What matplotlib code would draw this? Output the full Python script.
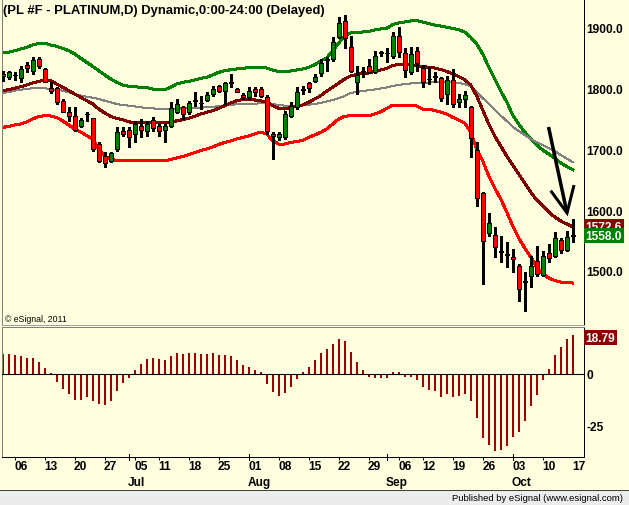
import numpy as np
import matplotlib
matplotlib.use('Agg')
import matplotlib.pyplot as plt
import matplotlib.transforms as mtransforms
from matplotlib.patches import Rectangle
from matplotlib.lines import Line2D

plt.rcParams['font.family'] = ['Liberation Sans', 'DejaVu Sans']

# ---------------- data (daily bars, 1 Jun 2011 .. 14 Oct 2011) ----------------
OPEN = [1824.7, 1818.8, 1823.4, 1817.7, 1839.1, 1828.7, 1848.9, 1832.5, 1800.7, 1800.7,
        1780.3, 1761.2, 1754.6, 1738.2, 1758.4, 1751.3, 1709.0, 1689.8, 1681.5, 1700.8,
        1730.9, 1732.6, 1725.5, 1738.2, 1730.9, 1749.0, 1738.2, 1732.6, 1738.2, 1761.2,
        1769.4, 1761.2, 1781.5, 1776.5, 1782.0, 1791.3, 1804.0, 1796.8, 1811.1, 1799.6,
        1790.2, 1786.9, 1799.6, 1799.6, 1785.9, 1725.5, 1720.1, 1720.1, 1755.6, 1769.4,
        1798.7, 1808.9, 1813.2, 1825.9, 1848.9, 1848.9, 1884.7, 1912.0, 1868.2, 1811.6,
        1829.2, 1837.9, 1828.0, 1860.5, 1859.1, 1854.4, 1886.3, 1858.8, 1827.0, 1862.6,
        1833.6, 1816.5, 1820.1, 1817.2, 1791.3, 1814.9, 1777.7, 1783.1, 1769.4, 1699.6,
        1628.4, 1562.0, 1559.7, 1532.9, 1527.2, 1523.5, 1508.7, 1483.5, 1492.3, 1516.0,
        1493.4, 1529.1, 1524.2, 1551.0, 1535.1, 1557.6]
HIGH = [1829.7, 1829.7, 1828.0, 1837.9, 1843.5, 1851.7, 1851.7, 1833.6, 1811.6, 1802.4,
        1783.1, 1769.4, 1769.4, 1751.3, 1762.2, 1751.3, 1711.8, 1695.4, 1695.4, 1736.5,
        1736.5, 1736.5, 1747.4, 1750.2, 1747.4, 1753.0, 1741.9, 1741.9, 1777.7, 1783.1,
        1772.1, 1780.3, 1794.6, 1788.5, 1794.1, 1804.0, 1806.1, 1810.6, 1824.3, 1800.7,
        1793.0, 1802.4, 1802.4, 1802.4, 1789.7, 1728.8, 1728.8, 1763.4, 1777.7, 1802.4,
        1804.0, 1811.6, 1824.3, 1848.9, 1851.7, 1884.7, 1917.6, 1921.4, 1886.3, 1837.9,
        1835.3, 1848.9, 1862.6, 1862.6, 1866.6, 1892.9, 1901.1, 1866.6, 1868.2, 1868.2,
        1839.1, 1835.3, 1827.0, 1818.8, 1821.4, 1832.5, 1791.3, 1796.8, 1772.1, 1711.8,
        1630.5, 1595.0, 1571.9, 1558.1, 1547.2, 1536.2, 1511.5, 1497.8, 1525.2, 1541.6,
        1533.4, 1544.4, 1563.7, 1553.8, 1566.3, 1585.6]
LOW = [1813.2, 1816.0, 1814.9, 1810.6, 1827.0, 1824.3, 1833.6, 1810.6, 1793.0, 1774.9,
       1761.2, 1747.4, 1730.9, 1736.5, 1747.4, 1698.0, 1678.9, 1670.7, 1679.9, 1698.0,
       1722.7, 1703.6, 1711.8, 1720.1, 1722.7, 1730.9, 1722.7, 1711.8, 1736.5, 1760.1,
       1750.2, 1758.4, 1772.1, 1766.7, 1780.3, 1788.5, 1794.1, 1774.9, 1802.4, 1794.1,
       1783.1, 1783.1, 1788.5, 1785.9, 1725.5, 1684.4, 1715.6, 1717.3, 1753.5, 1766.7,
       1791.3, 1794.1, 1811.6, 1821.4, 1829.7, 1846.1, 1883.0, 1866.6, 1827.0, 1791.3,
       1818.8, 1825.9, 1825.9, 1853.4, 1843.5, 1850.1, 1851.7, 1818.8, 1824.3, 1829.7,
       1802.4, 1807.8, 1810.6, 1780.3, 1774.9, 1769.4, 1769.4, 1769.4, 1687.1, 1607.5,
       1478.6, 1558.1, 1522.5, 1514.3, 1506.1, 1498.8, 1451.1, 1434.7, 1473.2, 1492.3,
       1492.3, 1514.3, 1522.5, 1529.6, 1532.4, 1547.2]
CLOSE = [1821.4, 1827.0, 1821.8, 1832.5, 1833.6, 1847.3, 1836.9, 1810.6, 1796.8, 1777.7,
         1762.2, 1754.6, 1732.6, 1748.5, 1757.6, 1700.8, 1681.5, 1677.7, 1693.7, 1728.3,
         1725.5, 1720.1, 1741.9, 1732.6, 1741.9, 1734.9, 1730.9, 1738.2, 1767.8, 1774.9,
         1758.4, 1776.5, 1780.6, 1776.0, 1789.7, 1799.6, 1796.8, 1808.9, 1810.1, 1795.1,
         1786.9, 1795.8, 1795.1, 1787.5, 1730.9, 1721.7, 1725.5, 1758.4, 1772.1, 1794.1,
         1797.9, 1800.7, 1818.8, 1842.4, 1848.1, 1876.4, 1908.2, 1883.0, 1829.7, 1822.6,
         1828.4, 1828.0, 1854.4, 1859.5, 1858.3, 1886.3, 1860.0, 1831.3, 1857.2, 1842.4,
         1811.6, 1815.7, 1819.3, 1784.3, 1814.9, 1774.9, 1783.1, 1789.7, 1718.4, 1619.7,
         1549.9, 1578.5, 1540.0, 1531.9, 1526.3, 1519.2, 1470.4, 1482.5, 1507.7, 1495.0,
         1525.2, 1520.9, 1553.8, 1534.6, 1555.5, 1558.0]
UPPER = [1858.8, 1860.0, 1862.6, 1865.4, 1868.2, 1872.0, 1874.8, 1874.8, 1872.0, 1869.8,
         1866.5, 1862.6, 1857.2, 1850.1, 1843.5, 1836.9, 1829.7, 1822.6, 1816.0, 1810.6,
         1806.1, 1804.0, 1803.3, 1802.4, 1801.7, 1799.6, 1798.4, 1798.4, 1802.4, 1807.8,
         1810.6, 1812.2, 1814.4, 1817.2, 1818.8, 1822.6, 1827.0, 1829.7, 1831.3, 1832.5,
         1833.6, 1834.6, 1835.3, 1835.3, 1834.1, 1830.8, 1828.0, 1828.0, 1829.2, 1830.8,
         1832.5, 1835.3, 1839.6, 1845.6, 1850.6, 1862.1, 1875.3, 1886.8, 1891.7, 1892.9,
         1893.4, 1894.2, 1896.7, 1898.3, 1899.5, 1905.7, 1908.2, 1909.8, 1911.5, 1912.0,
         1909.8, 1907.4, 1904.9, 1903.3, 1901.1, 1899.1, 1897.2, 1893.4, 1884.7, 1873.6,
         1857.2, 1835.8, 1816.0, 1796.3, 1778.2, 1756.8, 1742.0, 1728.8, 1717.3, 1707.4,
         1699.2, 1692.6, 1686.0, 1677.8, 1672.0, 1666.7]
MIDDLE = [1796.8, 1798.4, 1800.7, 1803.3, 1806.1, 1809.4, 1812.2, 1814.4, 1813.2, 1807.8,
          1802.4, 1796.8, 1791.3, 1785.9, 1780.3, 1774.9, 1766.6, 1760.1, 1754.6, 1751.3,
          1749.0, 1745.7, 1743.6, 1743.6, 1743.6, 1743.6, 1744.8, 1743.6, 1743.6, 1747.4,
          1749.0, 1751.3, 1754.6, 1758.4, 1761.2, 1763.8, 1767.8, 1772.1, 1776.5, 1780.3,
          1782.0, 1782.0, 1781.5, 1780.3, 1777.7, 1772.1, 1767.8, 1766.6, 1769.4, 1771.1,
          1773.2, 1777.7, 1783.1, 1788.5, 1796.3, 1802.4, 1809.4, 1816.0, 1821.0, 1823.4,
          1825.1, 1825.9, 1828.4, 1830.8, 1833.3, 1838.2, 1839.9, 1840.7, 1839.9, 1838.2,
          1836.6, 1835.3, 1834.1, 1831.7, 1828.4, 1824.3, 1820.1, 1815.2, 1806.1, 1788.0,
          1765.0, 1742.0, 1722.2, 1705.7, 1689.3, 1674.5, 1659.7, 1644.8, 1630.0, 1616.9,
          1607.0, 1597.1, 1588.9, 1582.3, 1577.4, 1572.6]
SLOW = [1793.0, 1794.6, 1796.8, 1798.4, 1799.6, 1800.7, 1801.2, 1800.7, 1799.6, 1797.9,
        1796.8, 1794.1, 1791.3, 1788.5, 1786.9, 1785.2, 1783.1, 1780.3, 1777.7, 1774.9,
        1773.2, 1772.1, 1771.1, 1769.4, 1768.3, 1767.8, 1766.6, 1766.6, 1766.6, 1766.6,
        1767.8, 1767.8, 1768.3, 1768.8, 1769.4, 1770.4, 1771.1, 1772.1, 1773.2, 1774.4,
        1774.9, 1774.9, 1775.4, 1776.0, 1776.0, 1774.9, 1773.2, 1772.1, 1771.6, 1772.1,
        1772.7, 1773.7, 1774.9, 1776.5, 1779.0, 1781.5, 1784.7, 1788.0, 1793.0, 1794.6,
        1796.3, 1797.6, 1798.7, 1800.4, 1802.0, 1804.5, 1806.1, 1807.8, 1808.6, 1809.4,
        1809.9, 1810.3, 1810.6, 1810.6, 1810.6, 1810.3, 1809.4, 1807.8, 1804.0, 1794.6,
        1784.7, 1774.9, 1765.0, 1755.9, 1746.9, 1737.0, 1730.4, 1723.8, 1717.3, 1712.3,
        1707.4, 1702.4, 1697.5, 1690.9, 1685.2, 1678.9]
LOWER = [1736.5, 1737.8, 1740.3, 1742.0, 1745.2, 1750.2, 1754.3, 1755.6, 1755.1, 1752.6,
         1746.9, 1740.3, 1733.7, 1728.8, 1722.7, 1717.3, 1700.8, 1689.3, 1683.5, 1682.2,
         1681.5, 1681.5, 1681.5, 1681.5, 1681.5, 1681.5, 1681.5, 1681.5, 1683.5, 1686.0,
         1688.5, 1691.7, 1695.0, 1698.3, 1700.8, 1704.1, 1708.2, 1711.8, 1714.0, 1717.3,
         1719.7, 1722.2, 1725.5, 1728.8, 1725.5, 1714.5, 1709.0, 1709.0, 1711.5, 1713.1,
         1714.8, 1720.1, 1723.8, 1728.3, 1733.7, 1742.0, 1750.2, 1754.6, 1755.6, 1755.6,
         1755.6, 1755.6, 1758.4, 1762.2, 1767.5, 1773.2, 1772.4, 1771.6, 1771.6, 1771.6,
         1766.6, 1766.6, 1764.2, 1761.7, 1758.4, 1753.0, 1748.5, 1743.6, 1728.3, 1700.8,
         1681.0, 1656.4, 1636.6, 1618.5, 1597.1, 1574.1, 1554.3, 1537.8, 1523.0, 1506.6,
         1495.1, 1488.5, 1484.4, 1481.9, 1480.7, 1480.2]
OSC = [9.3, 9.3, 9.0, 8.4, 7.4, 7.4, 5.5, 2.6, 0.3, -4.0,
       -7.4, -9.8, -12.7, -12.7, -11.3, -13.2, -14.7, -15.1, -13.2, -8.4,
       -4.5, -2.1, 1.6, 4.5, 6.9, 7.4, 6.9, 6.4, 8.4, 9.8,
       9.3, 9.8, 9.8, 9.3, 9.3, 9.8, 8.9, 8.9, 8.4, 6.4,
       4.0, 3.1, 1.6, 0.6, -5.0, -8.9, -10.8, -9.3, -6.4, -2.6,
       0.6, 3.1, 6.4, 9.8, 11.8, 14.2, 16.6, 15.6, 10.3, 5.5,
       1.6, -1.6, -2.1, -2.1, -2.1, 0.6, 0.6, -1.6, -1.6, -3.1,
       -6.4, -7.9, -8.4, -11.3, -9.8, -11.3, -10.8, -9.8, -13.2, -21.4,
       -31.1, -34.0, -36.9, -36.4, -34.5, -30.6, -28.2, -22.9, -15.6, -10.3,
       -3.1, 2.1, 8.9, 12.7, 16.6, 18.79]

PRICE_TICKS = [1500, 1600, 1700, 1800, 1900]
OSC_TICKS = [0, -25]
OSC_TICK_LABELS = ['0', '-25']
DAY_POS = [3, 8, 13, 18, 23, 27, 32, 37, 42, 47, 52, 57, 62, 67, 71, 76, 81, 86, 91, 96]
DAY_LABELS = ['06', '13', '20', '27', '05', '11', '18', '25', '01', '08', '15', '22', '29',
              '06', '12', '19', '26', '03', '10', '17']
MONTH_POS = [21, 41, 64, 85]
MONTH_LABELS = ['Jul', 'Aug', 'Sep', 'Oct']
TITLE = '(PL #F - PLATINUM,D) Dynamic,0:00-24:00 (Delayed)'
# hand-drawn arrow annotation (bar index, price)
ARROW_SHAFT = [(90.97, 1737.0), (94.05, 1595.5)]
ARROW_HEAD = [(91.33, 1632.2), (94.05, 1595.5), (95.22, 1641.5)]

# ---------------- styling ----------------
W, H = 629, 506
BG = '#FFFFE0'
PX = 0.72
GREEN = '#008000'
RED = '#FF0000'
MAROON = '#800000'
HIST = '#A00000'

fig = plt.figure(figsize=(W / 100, H / 100), dpi=100, facecolor=BG)


def px_axes(x0, y0, x1, y1):
    return fig.add_axes([x0 / W, 1 - y1 / H, (x1 - x0) / W, (y1 - y0) / H])


ax1 = px_axes(2, 0, 584, 326)
ax2 = px_axes(2, 328, 584, 458)
XLIM = (-0.12, 96.88)
for ax in (ax1, ax2):
    ax.set_facecolor(BG)
    ax.set_xlim(XLIM)
ax1.set_ylim(1411.1, 1947.7)
ax2.set_ylim(-40.0, 22.4)

o = np.array(OPEN); h = np.array(HIGH); l = np.array(LOW); c = np.array(CLOSE)
x = np.arange(len(o))

# bands
ax1.plot(x, UPPER, color=GREEN, lw=2 * PX, zorder=2, antialiased=False)
ax1.plot(x, SLOW, color='#808080', lw=1 * PX, zorder=2, antialiased=False)
ax1.plot(x, MIDDLE, color=MAROON, lw=2 * PX, zorder=2, antialiased=False)
ax1.plot(x, LOWER, color=RED, lw=2 * PX, zorder=2, antialiased=False)

# candles
ax1.vlines(x, l, h, colors='black', lw=1.1 * PX, zorder=3, antialiased=False)
body_col = np.where(c >= o, GREEN, RED)
ax1.bar(x, np.maximum(np.abs(c - o), 0.9), bottom=np.minimum(o, c), width=0.6,
        color=body_col, edgecolor='black', linewidth=PX, zorder=4, antialiased=False)

# arrow
ax1.plot(*zip(*ARROW_SHAFT), color='black', lw=3.5 * PX, zorder=6, solid_capstyle='butt')
ax1.plot(*zip(*ARROW_HEAD), color='black', lw=3 * PX, zorder=6, solid_capstyle='butt',
         solid_joinstyle='miter')

# oscillator
ax2.bar(x, OSC, width=0.36, color=HIST, zorder=2, antialiased=False)
ax2.axhline(0, color='black', lw=1.1 * PX, zorder=3)

# axes styling
lab_font = dict(fontsize=8.6, fontweight='bold')
for ax in (ax1, ax2):
    ax.yaxis.tick_right()
    ax.tick_params(axis='y', length=0, pad=1.6, labelsize=8.6)
    for s in ('left', 'top', 'bottom', 'right'):
        ax.spines[s].set_linewidth(PX)
    ax.spines['left'].set_color('#808080')
    ax.spines['right'].set_color('black')
ax1.spines['top'].set_visible(False)
ax1.spines['bottom'].set_color('#A0A0A0')
ax2.spines['top'].set_color('#808080')
ax2.spines['bottom'].set_color('black')

ax1.set_yticks(PRICE_TICKS)
ax1.set_yticklabels([f'{v:.1f}' for v in PRICE_TICKS], fontweight='bold')
ax1.tick_params(axis='x', bottom=False, labelbottom=False)
ax2.set_yticks(OSC_TICKS)
ax2.set_yticklabels(OSC_TICK_LABELS, fontweight='bold')

ax2.set_xticks(DAY_POS)
ax2.set_xticklabels(DAY_LABELS, fontweight='bold')
ax2.tick_params(axis='x', length=0, pad=2.2, labelsize=8.6)
ax2.set_xticks([d - 1 for d in DAY_POS[:-1]] + MONTH_POS, minor=True)
ax2.tick_params(axis='x', which='minor', length=3 * PX, width=PX, direction='out')
tr2 = mtransforms.blended_transform_factory(ax2.transData, ax2.transAxes)
for mp, ml in zip(MONTH_POS, MONTH_LABELS):
    ax2.plot([mp, mp], [-0.025, 0.02], color='black', lw=PX, transform=tr2, clip_on=False)
    ax2.text(mp - 0.12, -0.195, ml, transform=tr2, ha='left', va='center', **lab_font)

# value badges on the right scale (the green close badge covers part of the maroon one)
tr1 = mtransforms.blended_transform_factory(ax1.transAxes, ax1.transData)
trb = mtransforms.blended_transform_factory(ax2.transAxes, ax2.transData)
badge = dict(boxstyle='square,pad=0.14', ec='none')
ax1.text(1.003, MIDDLE[-1], f'{MIDDLE[-1]:.1f}', transform=tr1, ha='left', va='center',
         color='white', bbox=dict(fc='#8B0000', **badge), zorder=7, **lab_font)
ax1.text(1.003, CLOSE[-1], f'{CLOSE[-1]:.1f}', transform=tr1, ha='left', va='center',
         color='white', bbox=dict(fc=GREEN, **badge), zorder=8, **lab_font)
ax2.text(1.003, OSC[-1] - 1.5, f'{OSC[-1]:.2f}', transform=trb, ha='left', va='center',
         color='white', bbox=dict(fc='#8B0000', **badge), zorder=7, **lab_font)

# texts
fig.text(3 / W, 1 - 11 / H, TITLE, fontsize=9.35, fontweight='bold', ha='left', va='center')
fig.text(5 / W, 1 - 320 / H, '\u00a9 eSignal, 2011', fontsize=6.3, ha='left', va='center')

# footer strip
fig.patches.append(Rectangle((0, 0), 1, 15 / H, transform=fig.transFigure,
                             facecolor='#ECECEC', edgecolor='none', zorder=0))
fig.lines.append(Line2D([0, 1], [15 / H, 15 / H], transform=fig.transFigure,
                        color='#404040', lw=PX))
fig.text(623 / W, 1 - 498.5 / H, 'Published by eSignal (www.esignal.com)', fontsize=6.8,
         ha='right', va='center')

fig.savefig('out.png', dpi=100, facecolor=BG)
